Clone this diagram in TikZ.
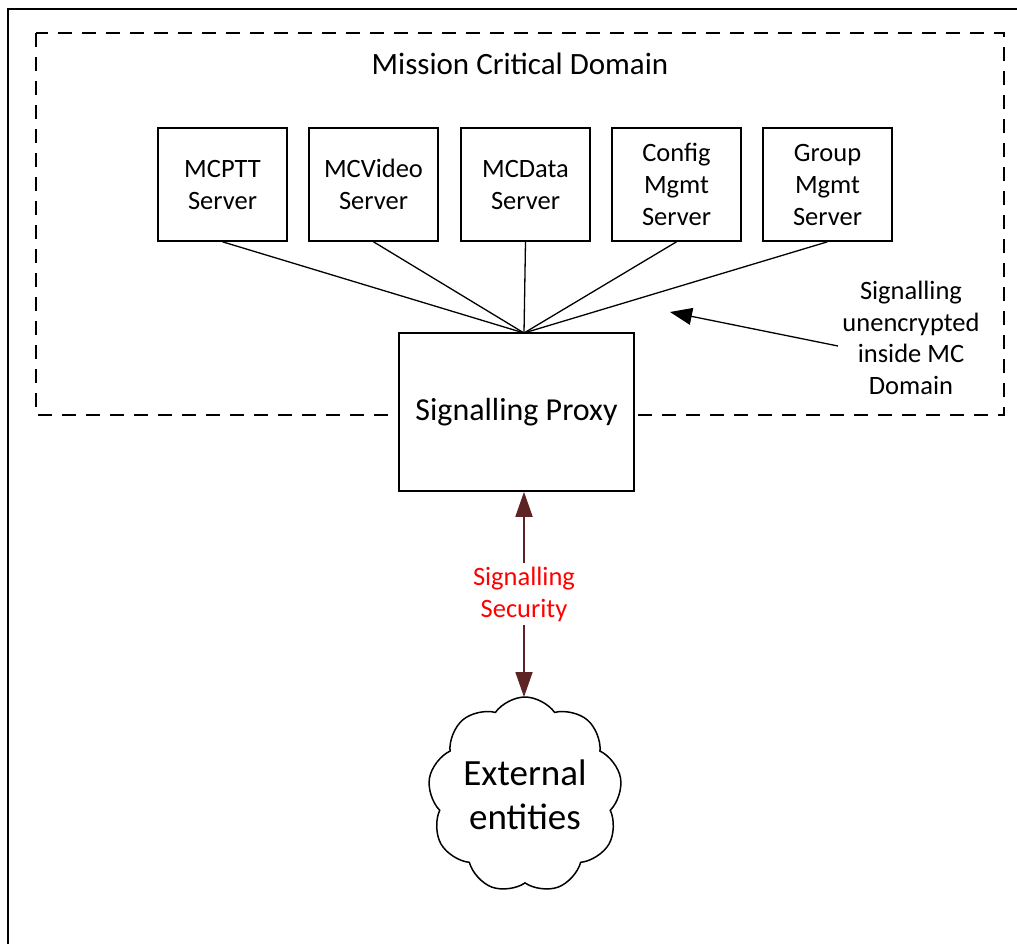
\documentclass[tikz,border=0pt]{standalone}
\usepackage{fontspec}
\setmainfont{Carlito}
\usetikzlibrary{shapes.symbols,arrows.meta}
\definecolor{arrowred}{HTML}{5E2424}
\tikzset{
  srv/.style={draw, line width=1.6pt, minimum width=129pt, minimum height=113pt, align=center, inner sep=0pt, font=\fontsize{26.5}{32}\selectfont},
  link/.style={line width=1.3pt},
}
\begin{document}
\begin{tikzpicture}[x=1pt,y=-1pt]
\useasboundingbox (0,0) rectangle (1017,943);
% outer frame (extends beyond the picture on the right and bottom)
\draw[line width=2pt] (1030,9) -- (8,9) -- (8,960);
% dashed domain
\draw[line width=1.8pt, dash pattern=on 14pt off 10pt] (36,33) rectangle (1004,415);
\node[font=\fontsize{31}{36}\selectfont] (title) at (520,64) {Mission Critical Domain};
% servers
\node[srv] (mcptt) at (222.5,184.5) {MCPTT\\Server};
\node[srv] (mcvideo) at (373.5,184.5) {MCVideo\\Server};
\node[srv] (mcdata) at (525.5,184.5) {MCData\\Server};
\node[srv] (config) at (676.5,184.5) {Config\\Mgmt\\Server};
\node[srv] (group) at (827.5,184.5) {Group\\Mgmt\\Server};
% proxy
\node[draw, fill=white, line width=1.6pt, minimum width=235pt, minimum height=158pt, inner sep=0pt, font=\fontsize{32}{36}\selectfont] (proxy) at (516.5,412) {Signalling Proxy};
\coordinate (hub) at (524,333);
\foreach \s in {mcptt,mcvideo,mcdata,config,group}
  \draw[link] (\s.south) -- (hub);
% annotation
\node[align=center, font=\fontsize{26.5}{31.7}\selectfont] (note) at (911,338) {Signalling\\unencrypted\\inside MC\\Domain};
\coordinate (notetip) at (670,312);
\draw[link, -{Triangle[length=22pt,width=17pt]}] (838,346) -- (notetip);
% cloud
\node[cloud, draw, line width=1.5pt, cloud puffs=9, cloud puff arc=110, cloud ignores aspect, minimum width=194pt, minimum height=196pt, inner sep=0pt, align=center, font=\fontsize{37}{44}\selectfont] (ext) at (525,795) {External\\entities};
% security arrow
\node[text=red, align=center, font=\fontsize{26.5}{32}\selectfont] (sec) at (524,594) {Signalling\\Security};
\draw[line width=1.8pt, arrowred, -{Triangle[length=25pt,width=17pt]}] (sec.north) -- (proxy.south -| sec.north);
\draw[line width=1.8pt, arrowred, -{Triangle[length=25pt,width=17pt]}] (sec.south) -- (524,697);
\end{tikzpicture}
\end{document}
